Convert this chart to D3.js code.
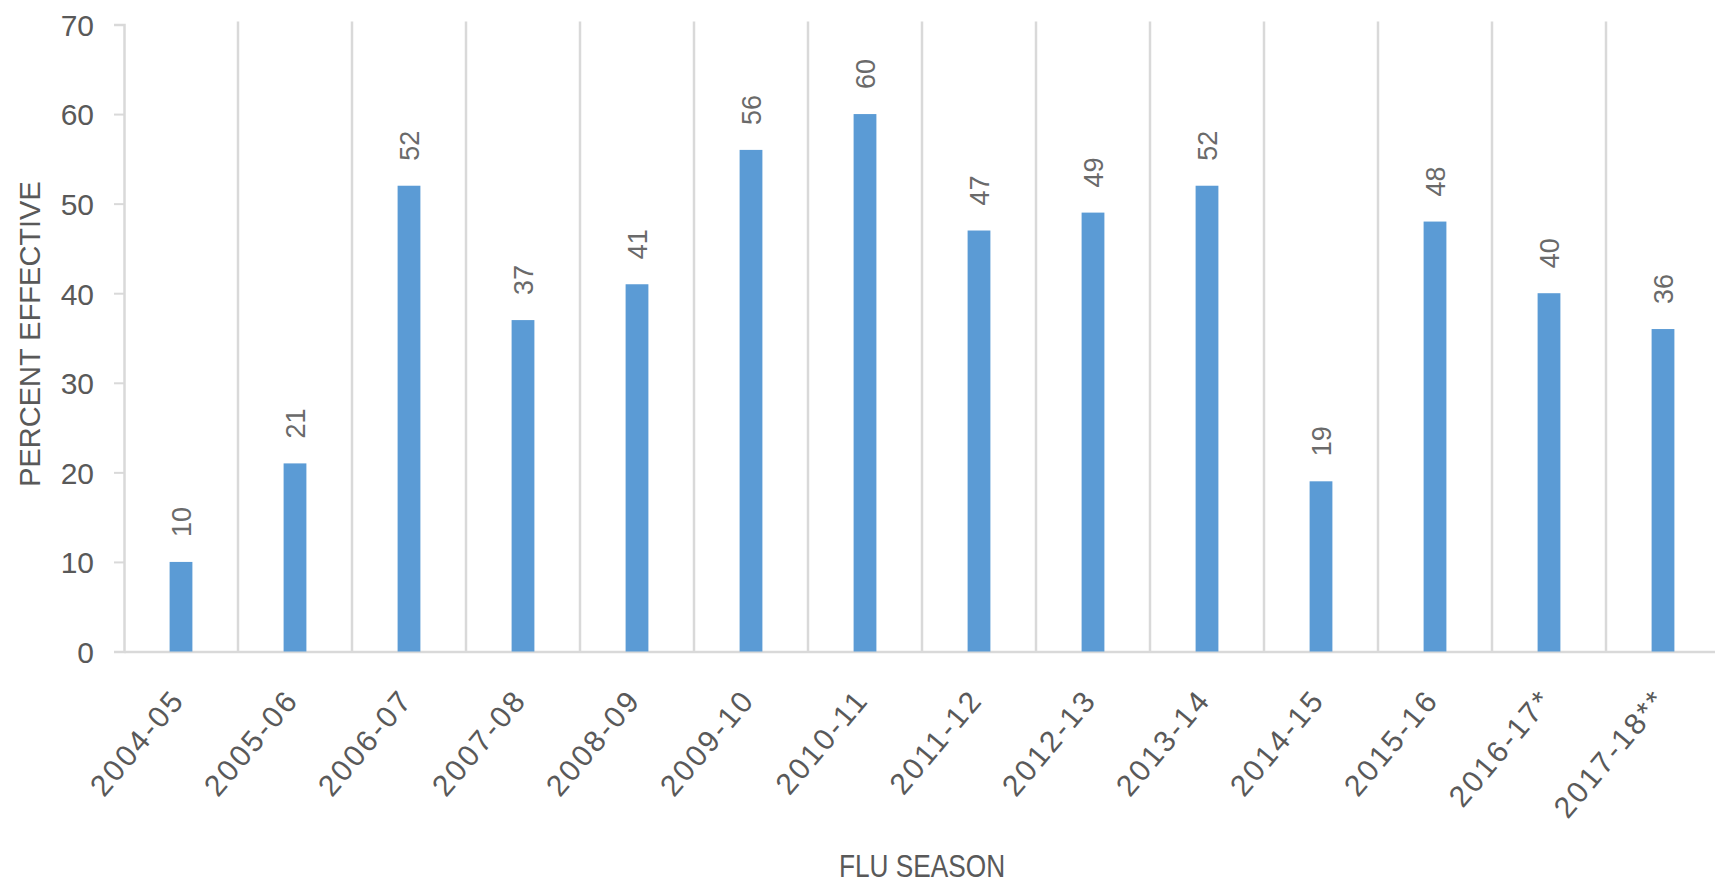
<!DOCTYPE html>
<html>
<head>
<meta charset="utf-8">
<script src="https://cdn.jsdelivr.net/npm/d3@7"></script>
<style>
    body { margin: 0; background: #fff; }
    svg { display: block; font-family: "Liberation Sans", Arial, sans-serif; }
</style>
</head>
<body>
<svg></svg>
<script>
const w = 1715
const h = 884
const svg = d3.select("svg")

// chart data
const seasons = ['2004-05', '2005-06', '2006-07', '2007-08', '2008-09', '2009-10', '2010-11',
    '2011-12', '2012-13', '2013-14', '2014-15', '2015-16', '2016-17*', '2017-18**']
const effective = [10, 21, 52, 37, 41, 56, 60, 47, 49, 52, 19, 48, 40, 36]
const yTicks = [0, 10, 20, 30, 40, 50, 60, 70]
const xTitle = 'FLU SEASON'
const yTitle = 'PERCENT EFFECTIVE'

// plot area (right side runs off the picture like the original)
const plotLeft = 124
const plotRight = 1720
const plotTop = 24.5
const plotBottom = 651.5

const gridColor = '#d9d9d9'
const barColor = '#5b9bd5'
const textColor = '#595959'

svg.attr('width', w).attr('height', h)

const x = d3.scaleBand()
    .domain(seasons)
    .range([plotLeft, plotRight])
    .paddingInner(0)
    .paddingOuter(0)

const y = d3.scaleLinear()
    .domain([0, 70])
    .range([plotBottom, plotTop])

const barWidth = x.bandwidth() * 0.2

// vertical grid lines between seasons
svg.append('g')
    .selectAll('line')
    .data(seasons.slice(1))
    .enter()
    .append('line')
    .attr('x1', d => x(d))
    .attr('x2', d => x(d))
    .attr('y1', y(70) - 3)
    .attr('y2', y(0))
    .attr('stroke', gridColor)
    .attr('stroke-width', 2.5)

// y axis
const yAxis = svg.append('g')
    .attr('transform', `translate(${plotLeft},0)`)
    .call(d3.axisLeft(y).tickValues(yTicks).tickSize(10).tickPadding(20))
yAxis.select('.domain').attr('stroke', gridColor).attr('stroke-width', 2.5)
yAxis.selectAll('.tick line').attr('stroke', gridColor).attr('stroke-width', 2)
yAxis.selectAll('.tick text')
    .attr('fill', textColor)
    .attr('font-size', 30)
    .attr('dy', '0.36em')

// x axis (baseline + rotated labels)
const xAxis = svg.append('g')
    .attr('transform', `translate(0,${plotBottom})`)
    .call(d3.axisBottom(x).tickSize(0).tickPadding(0))
xAxis.select('.domain').attr('stroke', gridColor).attr('stroke-width', 2.5)
xAxis.selectAll('.tick text')
    .attr('fill', textColor)
    .attr('font-size', 30)
    .attr('letter-spacing', 2.5)
    .attr('text-anchor', 'end')
    .attr('dy', 0)
    .attr('y', 0)
    .attr('transform', 'translate(5,49) rotate(-50)')

// bars
svg.append('g')
    .selectAll('rect')
    .data(effective)
    .enter()
    .append('rect')
    .attr('x', (d, i) => x(seasons[i]) + x.bandwidth() / 2 - barWidth / 2)
    .attr('y', d => y(d))
    .attr('width', barWidth)
    .attr('height', d => y(0) - y(d))
    .attr('fill', barColor)

// value labels, rotated upward above each bar
svg.append('g')
    .selectAll('text')
    .data(effective)
    .enter()
    .append('text')
    .attr('transform', (d, i) => {
        const cx = x(seasons[i]) + x.bandwidth() / 2
        return `translate(${cx + 10},${y(d) - 25}) rotate(-90)`
    })
    .attr('fill', '#6a6a6a')
    .attr('font-size', 27)
    .text(d => d)

// axis titles (squeezed a little to look like the narrow original font)
svg.append('text')
    .attr('transform', `translate(${(plotLeft + plotRight) / 2},877) scale(0.82,1)`)
    .attr('text-anchor', 'middle')
    .attr('fill', textColor)
    .attr('font-size', 32)
    .text(xTitle)

svg.append('text')
    .attr('transform', `translate(40,${(plotTop + plotBottom) / 2 - 4}) rotate(-90)`)
    .attr('text-anchor', 'middle')
    .attr('fill', textColor)
    .attr('font-size', 29)
    .text(yTitle)
</script>
</body>
</html>
